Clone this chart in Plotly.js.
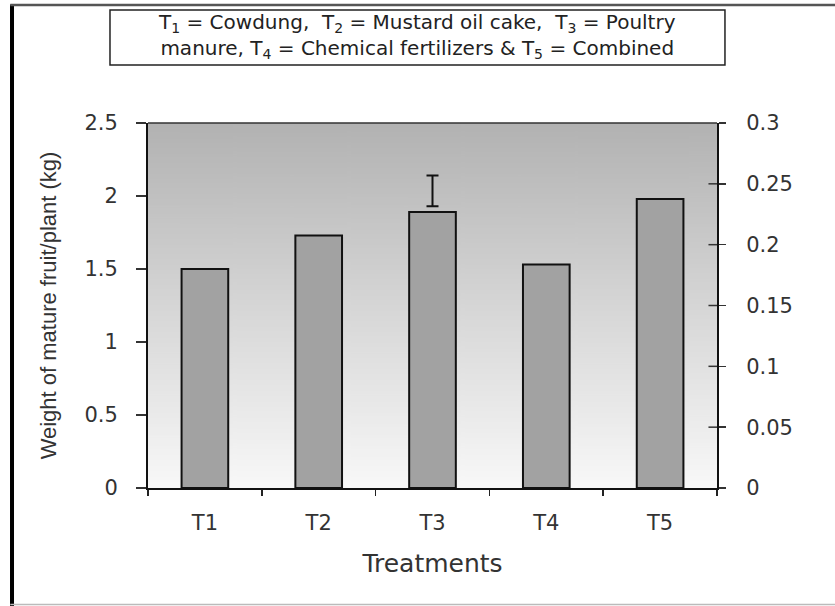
<!DOCTYPE html>
<html><head><meta charset="utf-8">
<script src="https://cdn.plot.ly/plotly-3.0.1.min.js"></script>
<style>body{margin:0;background:#fff}#c{width:835px;height:606px}</style>
</head><body><div id="c"></div>
<script>
const categories = ["T1","T2","T3","T4","T5"];
const weights = [1.50, 1.73, 1.89, 1.53, 1.98];
const errCategory = ["T3"];
const errCenter = [2.035];
const errHalf = [0.105];
const leftTicks = [0, 0.5, 1, 1.5, 2, 2.5];
const rightTicks = [0, 0.05, 0.1, 0.15, 0.2, 0.25, 0.3];

// gradient background image
const cv = document.createElement('canvas');
cv.width = 10; cv.height = 400;
const ctx = cv.getContext('2d');
const g = ctx.createLinearGradient(0,0,0,400);
g.addColorStop(0,'#b2b2b2'); g.addColorStop(0.5,'#d6d6d6'); g.addColorStop(1,'#f8f8f8');
ctx.fillStyle = g; ctx.fillRect(0,0,10,400);
const bg = cv.toDataURL();

const wide = '"DejaVu Sans", Arial, sans-serif';
const tfont = {family:wide, size:21, color:'#333'};
const data = [
  {type:'bar', x:categories, y:weights, width:0.41,
   marker:{color:'#a2a2a2', line:{color:'#111', width:2}}, hoverinfo:'none'},
  {type:'scatter', mode:'markers', x:errCategory, y:errCenter,
   marker:{size:1, color:'rgba(0,0,0,0)'},
   error_y:{type:'data', array:errHalf, color:'#111', thickness:2, width:6}},
  {type:'scatter', x:[], y:[], yaxis:'y2'}
];
const rightInside = rightTicks.slice(1, -1).map(v => ({type:'line', xref:'paper', yref:'y2', x0:0.985, x1:1, y0:v, y1:v, line:{color:'#333', width:1.5}}));
const layout = {
  width:835, height:606, showlegend:false,
  margin:{l:148, r:118, t:123, b:118},
  paper_bgcolor:'#fff', plot_bgcolor:'rgba(0,0,0,0)',
  xaxis:{type:'category', range:[-0.5,4.5], showline:true, linecolor:'#111', linewidth:2,
    ticks:'outside', tickson:'boundaries', ticklen:6, tickwidth:1.5, tickcolor:'#222',
    ticklabelstandoff:15, tickfont:tfont, showgrid:false, zeroline:false,
    title:{text:'Treatments', font:{family:wide, size:25, color:'#333'}, standoff:20}},
  yaxis:{range:[0,2.5], tickvals:leftTicks, ticktext:leftTicks.map(String), showline:true, linecolor:'#111', linewidth:2,
    ticks:'outside', ticklen:10, tickwidth:1.5, tickcolor:'#333', ticklabelstandoff:14, tickfont:tfont, showgrid:false, zeroline:false,
    title:{text:'Weight of mature fruit/plant (kg)', font:{family:'Arial, "Liberation Sans", sans-serif', size:22, color:'#333'}, standoff:22}},
  yaxis2:{overlaying:'y', side:'right', range:[0,0.3], tickvals:rightTicks, ticktext:rightTicks.map(String),
    showline:true, linecolor:'#111', linewidth:2, ticks:'outside', ticklen:7, tickwidth:1.5, tickcolor:'#333',
    ticklabelstandoff:16, tickfont:tfont, showgrid:false, zeroline:false},
  images:[{source:bg, xref:'paper', yref:'paper', x:0, y:1, sizex:1, sizey:1, sizing:'stretch', layer:'below', xanchor:'left', yanchor:'top'}],
  shapes:[
    {type:'line', xref:'paper', yref:'paper', x0:0, x1:1, y0:1, y1:1, line:{color:'#333', width:1.5}},
    ...rightInside,
    // legend box
    {type:'rect', xref:'paper', yref:'paper', x0:-0.0668, x1:1.014, y0:1.159, y1:1.3096, line:{color:'#222', width:1.5}, fillcolor:'#fff'},
    // outer frame
    {type:'line', xref:'paper', yref:'paper', x0:-0.239, x1:-0.239, y0:-0.33, y1:1.325, line:{color:'#000', width:4}},
    {type:'line', xref:'paper', yref:'paper', x0:-0.242, x1:1.21, y0:1.323, y1:1.323, line:{color:'#555', width:2.5}},
    {type:'line', xref:'paper', yref:'paper', x0:-0.242, x1:1.21, y0:-0.319, y1:-0.319, line:{color:'#bbb', width:1.5}}
  ],
  annotations:[
    {xref:'paper', yref:'paper', x:0.4736, y:1.237, xanchor:'center', yanchor:'middle', showarrow:false, align:'center',
     text:'T<sub>1</sub> = Cowdung,  T<sub>2</sub> = Mustard oil cake,  T<sub>3</sub> = Poultry<br>manure, T<sub>4</sub> = Chemical fertilizers &amp; T<sub>5</sub> = Combined',
     font:{family:wide, size:20, color:'#222'}}
  ]
};
Plotly.newPlot('c', data, layout, {staticPlot:true, displayModeBar:false});
</script></body></html>
